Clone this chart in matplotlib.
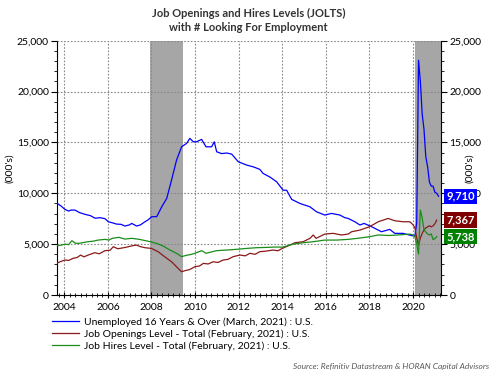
import matplotlib
matplotlib.use("Agg")
import matplotlib.pyplot as plt
import matplotlib.transforms as mtransforms
from matplotlib.ticker import MultipleLocator, FuncFormatter

plt.rcParams['font.family'] = ['Lato', 'DejaVu Sans']

# values in thousands (x = decimal year)
unemp_t = [2003.68, 2003.85, 2004.03, 2004.2, 2004.3, 2004.49, 2004.7, 2004.95, 2005.2, 2005.41,
           2005.65, 2005.87, 2006.02, 2006.2, 2006.4, 2006.6, 2006.78, 2007.0, 2007.09, 2007.32,
           2007.5, 2007.7, 2007.85, 2008.01, 2008.24, 2008.47, 2008.7, 2008.92, 2009.15, 2009.38,
           2009.61, 2009.76, 2009.92, 2010.07, 2010.3, 2010.5, 2010.76, 2010.88, 2010.99, 2011.22,
           2011.45, 2011.68, 2011.98, 2012.37, 2012.67, 2012.97, 2013.12, 2013.43, 2013.74, 2014.04,
           2014.2, 2014.43, 2014.81, 2015.27, 2015.57, 2015.95, 2016.26, 2016.64, 2016.87, 2017.02,
           2017.33, 2017.56, 2017.75, 2018.1, 2018.55, 2018.93, 2019.16, 2019.54, 2019.93,
           2020.083, 2020.167, 2020.25, 2020.333, 2020.417, 2020.5, 2020.583, 2020.667, 2020.75,
           2020.833, 2020.917, 2021.0, 2021.083, 2021.167]
unemp_v = [9.0, 8.75, 8.42, 8.25, 8.35, 8.35, 8.1, 7.93, 7.8, 7.55,
           7.6, 7.5, 7.2, 7.1, 6.97, 6.95, 6.78, 6.9, 7.04, 6.78,
           6.9, 7.2, 7.4, 7.7, 7.7, 8.67, 9.5, 11.3, 13.26, 14.57,
           14.9, 15.4, 15.06, 15.06, 15.3, 14.57, 14.57, 15.06, 14.08, 13.9,
           13.96, 13.85, 13.1, 12.77, 12.6, 12.35, 11.95, 11.6, 11.13, 10.3,
           10.3, 9.4, 9.0, 8.67, 8.18, 7.86, 8.02, 7.86, 7.6, 7.53,
           7.2, 6.88, 7.04, 6.71, 6.22, 6.45, 6.06, 6.06, 5.84,
           5.8, 7.1, 23.08, 21.0, 17.8, 16.3, 13.6, 12.6, 11.1,
           10.7, 10.7, 10.1, 10.0, 9.71]

open_t = [2003.68, 2003.85, 2004.03, 2004.2, 2004.4, 2004.6, 2004.75, 2004.9, 2005.1, 2005.4,
          2005.6, 2005.87, 2006.1, 2006.25, 2006.45, 2006.6, 2006.85, 2007.06, 2007.3, 2007.5,
          2007.7, 2008.0, 2008.3, 2008.6, 2008.92, 2009.22, 2009.38, 2009.55, 2009.75, 2009.99,
          2010.2, 2010.38, 2010.6, 2010.83, 2011.05, 2011.29, 2011.5, 2011.75, 2012.06, 2012.3,
          2012.52, 2012.75, 2012.97, 2013.2, 2013.58, 2013.8, 2014.0, 2014.35, 2014.58, 2014.96,
          2015.27, 2015.42, 2015.55, 2015.95, 2016.33, 2016.72, 2017.02, 2017.18, 2017.56, 2018.0,
          2018.4, 2018.86, 2019.16, 2019.54, 2019.85, 2020.0,
          2020.083, 2020.167, 2020.25, 2020.333, 2020.417, 2020.5, 2020.583, 2020.667, 2020.75,
          2020.833, 2020.917, 2021.0, 2021.083]
open_v = [3.15, 3.3, 3.44, 3.4, 3.6, 3.7, 3.93, 3.75, 3.93, 4.16,
          4.05, 4.36, 4.4, 4.75, 4.55, 4.6, 4.7, 4.81, 4.91, 4.75,
          4.65, 4.58, 4.26, 3.77, 3.27, 2.62, 2.29, 2.4, 2.5, 2.78,
          2.85, 3.11, 3.05, 3.27, 3.2, 3.44, 3.5, 3.77, 3.93, 3.85,
          4.1, 4.0, 4.26, 4.3, 4.42, 4.35, 4.58, 4.91, 5.14, 5.24,
          5.57, 5.9, 5.57, 5.99, 6.06, 5.9, 5.99, 6.22, 6.38, 6.71,
          7.2, 7.53, 7.3, 7.2, 7.2, 6.9,
          6.6, 5.6, 4.9, 5.6, 6.06, 6.4, 6.6, 6.7, 6.8,
          6.7, 6.8, 7.0, 7.367]

hires_t = [2003.68, 2003.85, 2004.03, 2004.2, 2004.35, 2004.5, 2004.65, 2004.85, 2005.1, 2005.35,
           2005.55, 2005.87, 2006.05, 2006.2, 2006.5, 2006.78, 2007.1, 2007.45, 2007.7, 2007.95,
           2008.24, 2008.54, 2008.85, 2009.15, 2009.38, 2009.6, 2009.84, 2009.99, 2010.3, 2010.5,
           2010.99, 2011.45, 2011.9, 2012.36, 2012.82, 2013.28, 2013.74, 2014.0, 2014.5, 2014.96,
           2015.42, 2015.95, 2016.5, 2017.02, 2017.45, 2018.0, 2018.4, 2018.9, 2019.3, 2019.85, 2020.0,
           2020.083, 2020.167, 2020.25, 2020.333, 2020.417, 2020.5, 2020.583, 2020.667, 2020.75,
           2020.833, 2020.917, 2021.0, 2021.083]
hires_v = [4.85, 4.9, 5.0, 4.95, 5.34, 5.1, 5.07, 5.15, 5.24, 5.3,
           5.4, 5.47, 5.4, 5.57, 5.67, 5.5, 5.57, 5.47, 5.35, 5.24,
           5.07, 4.81, 4.42, 4.1, 3.77, 3.9, 4.0, 4.1, 4.36, 4.1,
           4.36, 4.42, 4.49, 4.58, 4.65, 4.68, 4.72, 4.7, 5.0, 5.14,
           5.24, 5.4, 5.4, 5.47, 5.57, 5.73, 5.9, 5.85, 5.9, 5.99, 5.9,
           5.73, 5.0, 4.03, 8.35, 7.6, 6.4, 6.2, 6.0, 5.9,
           6.0, 5.45, 5.55, 5.738]

recessions = [(2007.92, 2009.45), (2020.1, 2021.3)]
labels = ["Unemployed 16 Years & Over (March, 2021) : U.S.",
          "Job Openings Level - Total (February, 2021) : U.S.",
          "Job Hires Level - Total (February, 2021) : U.S."]
last_vals = ["9,710", "7,367", "5,738"]
line_cols = ["#0000ff", "#8b1a1a", "#1a8c1a"]
box_cols = ["#0000ff", "#7f0000", "#008000"]

fig = plt.figure(figsize=(4.97, 3.73), dpi=100)
ax = fig.add_axes([0.1153, 0.2091, 0.772, 0.6818])

for a, b in recessions:
    ax.axvspan(a, b, color="#a6a6a6", lw=0, zorder=0)

series = [(unemp_t, unemp_v), (open_t, open_v), (hires_t, hires_v)]
handles = []
for (t, v), c in zip(series, line_cols):
    h, = ax.plot(t, [x * 1000 for x in v], color=c, lw=0.9, zorder=3)
    handles.append(h)

ax.set_xlim(2003.68, 2021.28)
ax.set_ylim(0, 25000)
ax.xaxis.set_major_locator(MultipleLocator(2))
ax.xaxis.set_minor_locator(MultipleLocator(0.25))
ax.yaxis.set_major_locator(MultipleLocator(5000))
ax.yaxis.set_minor_locator(MultipleLocator(1000))
ax.xaxis.set_major_formatter(FuncFormatter(lambda x, p: "%d" % round(x)))
ax.yaxis.set_major_formatter(FuncFormatter(lambda x, p: "{:,.0f}".format(x)))
ax.grid(True, which="major", color="#888888", ls=(0, (1.5, 1.5)), lw=0.8, zorder=1)
ax.set_axisbelow(False)
for s in ["top", "right"]:
    ax.spines[s].set_visible(False)
ax.tick_params(axis="x", which="major", direction="inout", length=5, labelsize=7.5, pad=3)
ax.tick_params(axis="x", which="minor", direction="inout", length=3)
ax.tick_params(axis="y", which="major", direction="out", length=4, labelsize=7.5, pad=2)
ax.tick_params(axis="y", which="minor", direction="out", length=2)
ax.set_ylabel("(000's)", fontsize=7.5)
ax.yaxis.set_label_coords(-0.113, 0.5)

ax2 = ax.twinx()
ax2.set_ylim(0, 25000)
ax2.yaxis.set_major_locator(MultipleLocator(5000))
ax2.yaxis.set_minor_locator(MultipleLocator(1000))
ax2.yaxis.set_major_formatter(FuncFormatter(lambda x, p: "{:,.0f}".format(x)))
ax2.tick_params(axis="y", which="major", direction="out", length=4, labelsize=7.5, pad=2)
ax2.tick_params(axis="y", which="minor", direction="out", length=2)
for s in ["top", "left", "bottom"]:
    ax2.spines[s].set_visible(False)
ax2.set_ylabel("(000's)", fontsize=7.5, rotation=90)
ax2.yaxis.set_label_coords(1.062, 0.5)

trans = mtransforms.blended_transform_factory(ax2.transAxes, ax2.transData)
for lab, val, c in zip(last_vals, [unemp_v[-1], open_v[-1], hires_v[-1]], box_cols):
    ax2.annotate(lab, xy=(1.0, val * 1000), xycoords=trans, xytext=(4, 0),
                 textcoords="offset points", ha="left", va="center", color="white",
                 fontsize=8, fontweight="bold", zorder=10, annotation_clip=False,
                 bbox=dict(boxstyle="square,pad=0.2", fc=c, ec="none"))

fig.text(0.5, 0.965, "Job Openings and Hires Levels (JOLTS)", ha="center", va="center",
         fontsize=8, fontweight="bold", color="#333333")
fig.text(0.5, 0.925, "with # Looking For Employment", ha="center", va="center",
         fontsize=8, fontweight="bold", color="#333333")

fig.legend(handles, labels, loc="upper left", bbox_to_anchor=(0.105, 0.15),
           frameon=False, fontsize=7.5, handlelength=2.6, handletextpad=0.5,
           labelspacing=0.25, borderpad=0, borderaxespad=0)

fig.text(0.985, 0.018, "Source: Refinitiv Datastream & HORAN Capital Advisors", ha="right",
         va="center", fontsize=6, style="italic", color="#595959")

fig.savefig("out.png", dpi=100)
